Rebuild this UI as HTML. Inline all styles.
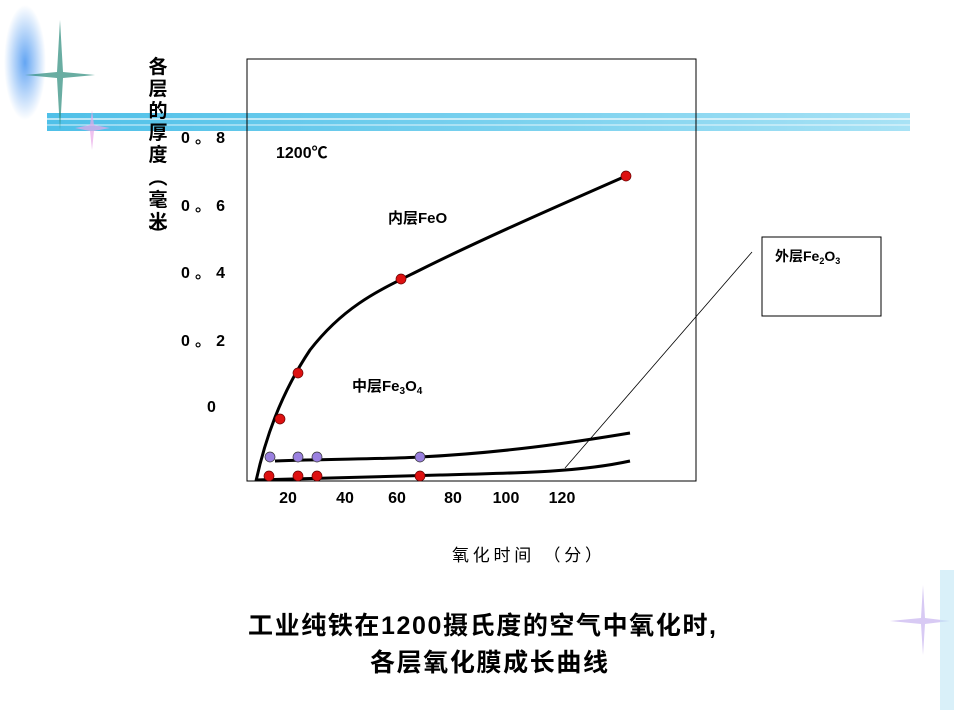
<!DOCTYPE html>
<html><head><meta charset="utf-8"><style>
body{margin:0;background:#fff;}
svg{display:block}
text{font-family:"Liberation Sans","Noto Sans CJK SC",sans-serif;font-weight:bold;fill:#000}
.n{font-weight:normal}
</style></head><body>
<svg width="960" height="720" viewBox="0 0 960 720">
<defs>
<linearGradient id="bl" x1="0" x2="1"><stop offset="0" stop-color="#4fc0e8"/><stop offset="0.6" stop-color="#7fd3ef"/><stop offset="1" stop-color="#a8e2f5"/></linearGradient>
<radialGradient id="glow"><stop offset="0" stop-color="#3d8ff0"/><stop offset="1" stop-color="#3d8ff0" stop-opacity="0"/></radialGradient>
</defs>
<rect x="4" y="5" width="42" height="115" fill="url(#glow)" opacity="0.8"/>
<rect x="47" y="113" width="863" height="18" fill="url(#bl)"/>
<line x1="47" y1="119" x2="910" y2="119" stroke="#fff" stroke-width="1.5" opacity="0.8"/>
<line x1="47" y1="125" x2="910" y2="125" stroke="#fff" stroke-width="1" opacity="0.8"/>
<path d="M60 20 L63 72 L95 75 L63 78 L60 130 L57 78 L25 75 L57 72Z" fill="#2a8a7a" opacity="0.7"/>
<path d="M92 110 L94 125 L110 128 L94 131 L92 150 L90 131 L75 128 L90 125Z" fill="#e8a8e8" opacity="0.7"/>
<path d="M923 585 L925 618 L950 621 L925 624 L923 655 L921 624 L890 621 L921 618Z" fill="#c8b4f0" opacity="0.7"/>
<rect x="940" y="570" width="14" height="140" fill="#bfe6f5" opacity="0.6"/>
<rect x="247" y="59" width="449" height="422" fill="none" stroke="#000" stroke-width="1"/>
<rect x="762" y="237" width="119" height="79" fill="#fff" stroke="#000" stroke-width="1"/>
<line x1="565" y1="468" x2="752" y2="252" stroke="#000" stroke-width="0.8"/>
<path d="M256 481 C265 440,280 395,310 350 C345 305,380 290,420 270 C480 240,560 205,626 176" fill="none" stroke="#000" stroke-width="3"/>
<path d="M275 461 C330 459,390 459,420 457 C500 453,570 443,630 433" fill="none" stroke="#000" stroke-width="3"/>
<path d="M255 480 C330 478,400 476,440 475 C520 473,580 472,630 461" fill="none" stroke="#000" stroke-width="3"/>
<g fill="#dd1111" stroke="#600" stroke-width="0.7">
<circle cx="269" cy="476" r="5"/><circle cx="298" cy="476" r="5"/><circle cx="317" cy="476" r="5"/><circle cx="420" cy="476" r="5"/>
<circle cx="280" cy="419" r="5"/><circle cx="298" cy="373" r="5"/><circle cx="401" cy="279" r="5"/><circle cx="626" cy="176" r="5"/>
</g>
<g fill="#9a80e0" stroke="#333" stroke-width="0.7">
<circle cx="270" cy="457" r="5"/><circle cx="298" cy="457" r="5"/><circle cx="317" cy="457" r="5"/><circle cx="420" cy="457" r="5"/>
</g>
<g font-size="19" text-anchor="middle" style="font-family:'Noto Serif CJK SC','Noto Sans CJK SC',serif">
<text x="158" y="73">各</text><text x="158" y="95">层</text><text x="158" y="117">的</text><text x="158" y="139">厚</text><text x="158" y="161">度</text>
<text x="158" y="184">︵</text><text x="158" y="206">毫</text><text x="158" y="228">米</text><text x="158" y="241">︶</text>
</g>
<g font-size="16">
<text x="181" y="143" textLength="44">0。8</text><text x="181" y="211" textLength="44">0。6</text><text x="181" y="278" textLength="44">0。4</text><text x="181" y="346" textLength="44">0。2</text><text x="207" y="412">0</text>
</g>
<g font-size="16" text-anchor="middle">
<text x="288" y="503">20</text><text x="345" y="503">40</text><text x="397" y="503">60</text><text x="453" y="503">80</text><text x="506" y="503">100</text><text x="562" y="503">120</text>
</g>
<text x="276" y="158" font-size="16">1200℃</text>
<text x="388" y="223" font-size="15">内层FeO</text>
<text x="352" y="391" font-size="15">中层Fe<tspan font-size="10" dy="3">3</tspan><tspan dy="-3">O</tspan><tspan font-size="10" dy="3">4</tspan></text>
<text x="775" y="261" font-size="14">外层Fe<tspan font-size="9" dy="3">2</tspan><tspan dy="-3">O</tspan><tspan font-size="9" dy="3">3</tspan></text>
<text x="452" y="561" font-size="17" class="n" textLength="150">氧化时间 （分）</text>
<text x="248" y="634" font-size="25" textLength="468">工业纯铁在1200摄氏度的空气中氧化时,</text>
<text x="370" y="671" font-size="25" textLength="238">各层氧化膜成长曲线</text>
</svg>
</body></html>
